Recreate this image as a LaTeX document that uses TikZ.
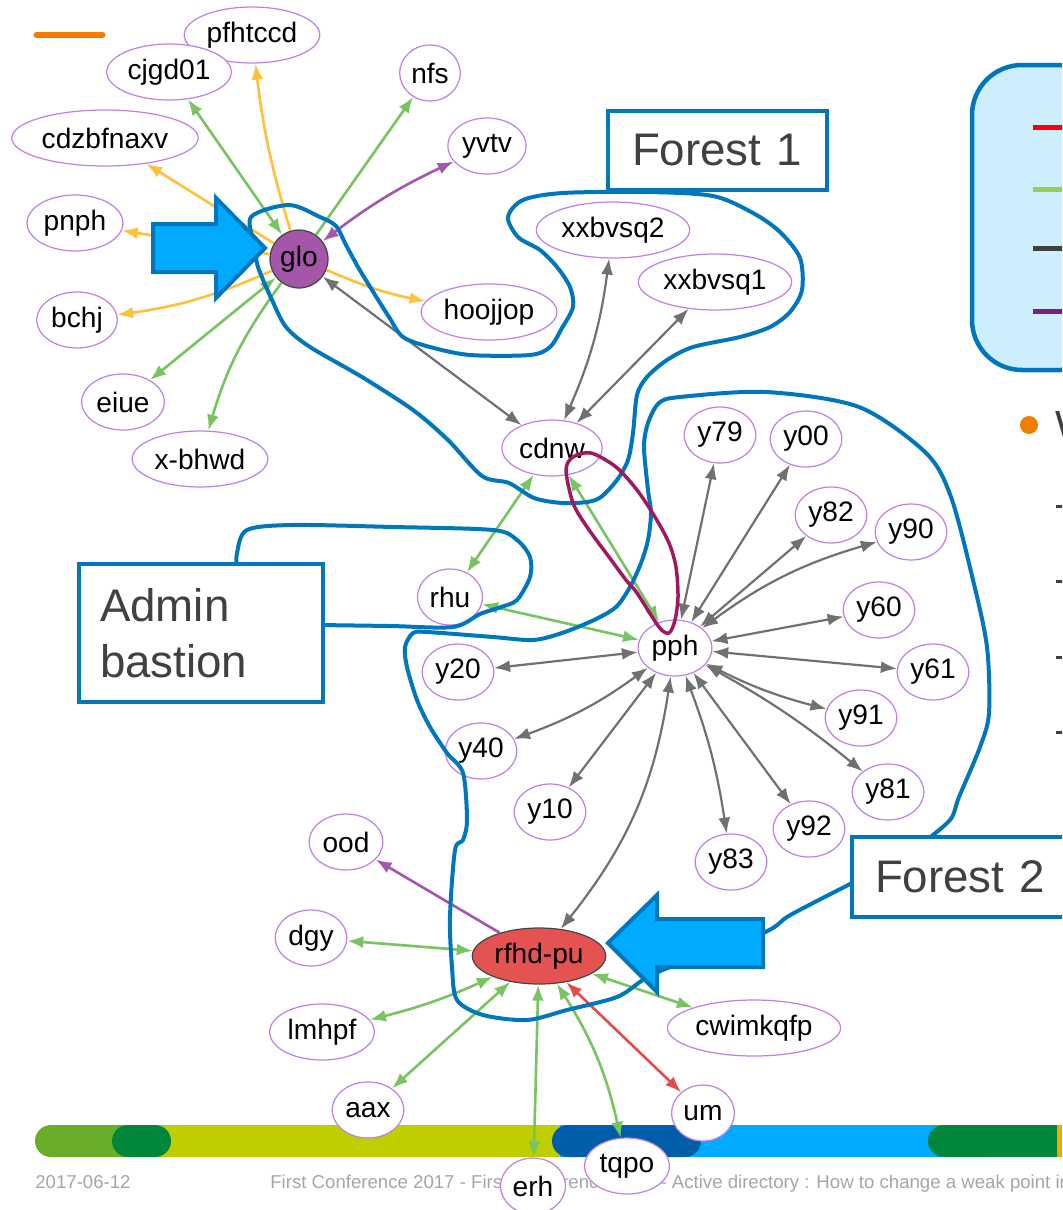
\documentclass[tikz,border=0pt]{standalone}
\usepackage{fontspec}
\setmainfont{Liberation Sans}
\usetikzlibrary{shapes.geometric,arrows.meta}

\definecolor{hostline}{RGB}{190,130,230}
\definecolor{nodedark}{RGB}{70,70,70}
\definecolor{glofill}{RGB}{164,86,168}
\definecolor{rfhdfill}{RGB}{228,82,82}
\definecolor{linkgreen}{RGB}{120,196,96}
\definecolor{linkyellow}{RGB}{255,192,60}
\definecolor{linkgray}{RGB}{112,112,112}
\definecolor{linkpurple}{RGB}{163,88,173}
\definecolor{linkred}{RGB}{228,76,76}
\definecolor{bluepen}{RGB}{0,118,189}
\definecolor{calloutfill}{RGB}{0,170,255}
\definecolor{loopred}{RGB}{160,25,95}
\definecolor{labeltext}{RGB}{64,64,64}
\definecolor{legendfill}{RGB}{204,238,253}
\definecolor{legred}{RGB}{255,0,0}
\definecolor{leggreen}{RGB}{146,208,80}
\definecolor{legpurple}{RGB}{128,30,128}
\definecolor{bulletorange}{RGB}{240,125,0}
\definecolor{footgray}{RGB}{165,165,165}
\definecolor{barlightgreen}{RGB}{106,174,39}
\definecolor{bardarkgreen}{RGB}{0,135,60}
\definecolor{baryellow}{RGB}{191,206,0}
\definecolor{bardarkblue}{RGB}{0,93,168}
\definecolor{barlightblue}{RGB}{0,170,255}
\definecolor{barorange}{RGB}{247,166,0}

\begin{document}
\begin{tikzpicture}[x=0.02cm, y=-0.02cm,
        host/.style={ellipse, draw=hostline, fill=white, line width=0.7pt, inner xsep=1.5pt, inner ysep=0pt,
            minimum height=1.12cm, minimum width=1.2cm, font=\fontsize{16}{19}\selectfont},
        link/.style={line width=1.5pt, >={Latex[length=0.32cm,width=0.24cm]}},
        greenedge/.style={link, linkgreen},
        yellowedge/.style={link, linkyellow},
        grayedge/.style={link, linkgray, line width=1.25pt},
        purpleedge/.style={link, linkpurple},
        rededge/.style={link, linkred},
        outline/.style={bluepen, line width=0.08cm, line join=round},
        callout/.style={fill=calloutfill, draw=bluepen, line width=0.08cm},
        labelbox/.style={draw=bluepen, fill=white, line width=0.08cm, align=left, inner ysep=0pt,
            text=labeltext, font=\fontsize{26}{32}\selectfont},
        footer/.style={text=footgray, font=\fontsize{10.6}{12}\selectfont, inner sep=0pt}]
        \useasboundingbox (0,0) rectangle (1062,1210);
        \clip (0,0) rectangle (1062,1210);

        \draw[bulletorange, line width=0.14cm, line cap=round] (37,35) -- (102,35);

        \fill[barlightgreen, rounded corners=0.32cm] (35,1125) rectangle (150,1157);
        \fill[baryellow] (140,1125) rectangle (560,1157);
        \fill[barlightblue] (560,1125) rectangle (1062,1157);
        \fill[bardarkgreen, rounded corners=0.32cm] (112,1125) rectangle (171,1157);
        \fill[bardarkblue, rounded corners=0.32cm] (552,1125) rectangle (701,1157);
        \fill[bardarkgreen, rounded corners=0.32cm] (928,1125) rectangle (1000,1157);
        \fill[bardarkgreen] (960,1125) rectangle (1057,1157);
        \fill[barorange] (1057,1125) rectangle (1062,1157);
        \node[footer, anchor=base west] (date) at (35,1188) {2017-06-12};
        \node[footer, anchor=base west] (title) at (270,1188) {First Conference 2017 - First Conference 2017 - Active directory : How to change a weak point in};

        \draw[bluepen, fill=legendfill, line width=0.09cm, rounded corners=1cm] (972,65) rectangle (1110,370);
        \foreach \c/\y in {legred/127, leggreen/189, labeltext/248, legpurple/311}
            \draw[\c, line width=0.1cm] (1033,\y) -- (1070,\y);
        \fill[bulletorange] (1029,425) circle[radius=0.18cm];
        \node[anchor=base west, inner sep=0pt, text=labeltext, font=\fontsize{24}{28}\selectfont] (wtext) at (1055,440) {W};
        \foreach \y in {506,581,657,732}
            \draw[labeltext, line width=0.06cm] (1056,\y) -- (1070,\y);

        \node[host] (pfhtccd) at (252,35) {pfhtccd};
        \node[host] (cjgd01) at (169,72) {cjgd01};
        \node[host] (nfs) at (430,73) {nfs};
        \node[host] (yvtv) at (487,146) {yvtv};
        \node[host] (cdzbfnaxv) at (105,138) {cdzbfnaxv};
        \node[host] (pnph) at (75,223) {pnph};
        \node[circle, draw=nodedark, fill=glofill, line width=0.7pt, minimum size=1.16cm, inner sep=0pt,
            font=\fontsize{16}{19}\selectfont] (glo) at (299,259) {glo};
        \node[host] (bchj) at (77,320) {bchj};
        \node[host] (hoojjop) at (489,312) {hoojjop};
        \node[host] (eiue) at (123,402) {eiue};
        \node[host] (xbhwd) at (200,459) {x-bhwd};
        \node[host] (xxbvsqtwo) at (613,230) {xxbvsq2};
        \node[host] (xxbvsqone) at (715,282) {xxbvsq1};
        \node[host] (cdnw) at (552,448) {cdnw};
        \node[host] (rhu) at (450,597) {rhu};
        \node[host] (pph) at (675,648) {pph};
        \node[host] (y79) at (720,435) {y79};
        \node[host] (y00) at (806,439) {y00};
        \node[host] (y82) at (831,515) {y82};
        \node[host] (y90) at (911,532) {y90};
        \node[host] (y60) at (879,610) {y60};
        \node[host] (y61) at (933,672) {y61};
        \node[host] (y91) at (861,718) {y91};
        \node[host] (y81) at (888,792) {y81};
        \node[host] (y92) at (809,829) {y92};
        \node[host] (y83) at (731,862) {y83};
        \node[host] (y10) at (550,812) {y10};
        \node[host] (y40) at (481,751) {y40};
        \node[host] (y20) at (458,672) {y20};
        \node[ellipse, draw=nodedark, fill=rfhdfill, line width=0.7pt, inner xsep=1.5pt, inner ysep=0pt,
            minimum height=1.12cm, font=\fontsize{16}{19}\selectfont] (rfhd) at (539,956) {rfhd-pu};
        \node[host] (ood) at (346,842) {ood};
        \node[host] (dgy) at (311,938) {dgy};
        \node[host] (lmhpf) at (322,1032) {lmhpf};
        \node[host] (aax) at (368,1110) {aax};
        \node[host] (erh) at (533,1186) {erh};
        \node[host] (tqpo) at (627,1166) {tqpo};
        \node[host] (um) at (703,1113) {um};
        \node[host] (cwimkqfp) at (754,1028) {cwimkqfp};

        \draw[yellowedge,->] (glo) to[bend left=5] (pfhtccd);
        \draw[greenedge,<->] (glo) -- (cjgd01);
        \draw[yellowedge,->] (glo) -- (cdzbfnaxv);
        \draw[yellowedge,->] (glo) -- (pnph);
        \draw[yellowedge,->] (glo) to[bend left=8] (bchj);
        \draw[greenedge,<->] (glo) -- (eiue);
        \draw[greenedge,->] (glo) to[bend left=-10] (xbhwd);
        \draw[greenedge,->] (glo) -- (nfs);
        \draw[purpleedge,<->] (glo) to[bend left=6] (yvtv);
        \draw[yellowedge,->] (glo) to[bend left=-6] (hoojjop);
        \draw[grayedge,<->] (glo) -- (cdnw);

        \draw[grayedge,<->] (cdnw) to[bend left=-8] (xxbvsqtwo);
        \draw[grayedge,<->] (cdnw) -- (xxbvsqone);
        \draw[greenedge,<->] (cdnw) -- (rhu);
        \draw[greenedge,<->] (cdnw) -- (pph);
        \draw[greenedge,<->] (rhu) -- (pph);

        \foreach \n in {y79,y00,y82,y60,y61,y92,y10,y20}
            \draw[grayedge,<->] (pph) -- (\n);
        \foreach \n/\b in {y90/10,y91/-6,y81/5,y83/6,y40/8}
            \draw[grayedge,<->] (pph) to[bend left=\b] (\n);
        \draw[grayedge,<->] (pph) to[bend left=15] (rfhd);

        \draw[purpleedge,->] (rfhd) -- (ood);
        \foreach \n in {dgy,aax,erh,cwimkqfp}
            \draw[greenedge,<->] (rfhd) -- (\n);
        \draw[greenedge,<->] (rfhd) to[bend left=5] (lmhpf);
        \draw[greenedge,<->] (rfhd) to[bend left=10] (tqpo);
        \draw[rededge,<->] (rfhd) -- (um);

        \draw[outline] plot[smooth cycle, tension=0.5] coordinates {
            (251,217) (289,205) (320,217) (336,226) (346,245) (358,267) (372,290) (389,317) (403,337)
            (430,347) (470,355) (530,355) (550,347) (562,328) (573,307) (570,287) (557,267) (540,250)
            (518,237) (508,217) (523,200) (563,193) (647,192) (713,196) (753,213) (780,232) (800,258)
            (802,290) (790,312) (770,327) (740,337) (693,347) (667,360) (647,377) (637,395) (633,433)
            (628,460) (617,480) (601,497) (587,502) (562,503) (534,498) (509,483) (482,476) (448,440)
            (413,410) (362,377) (310,347) (286,327) (272,300) (258,267) (255,247)};
        \draw[outline] plot[smooth, tension=0.5] coordinates {
            (920,845) (950,820) (959,797) (980,747) (989,713) (987,647) (973,580) (951,497) (926,453)
            (859,407) (766,392) (680,397) (659,403) (648,423) (644,447) (648,490) (651,513) (648,540)
            (641,563) (630,587) (616,607) (594,620) (562,633) (533,640) (493,637) (427,632) (413,633)
            (405,647) (407,667) (417,700) (430,727) (447,753) (463,773) (467,820) (463,840) (455,850)
            (450,917) (452,967) (457,1000) (483,1015) (527,1020) (567,1010) (617,997) (643,980)
            (670,967) (763,933) (787,917) (813,903) (858,880)};
        \draw[outline] plot[smooth, tension=0.5] coordinates {
            (237,570) (237,553) (247,530) (293,525) (393,527) (493,530) (517,540) (530,557) (530,577)
            (517,600) (501,607) (480,614) (453,627) (390,626) (318,625)};
        \draw[loopred, line width=0.07cm] plot[smooth cycle, tension=0.5] coordinates {
            (669,633) (659,627) (637,593) (626,580) (609,557) (587,527) (573,503) (566,470) (573,457)
            (591,453) (616,467) (637,490) (655,517) (669,543) (676,567) (678,597) (675,620)};

        \draw[callout] (153,224) -- (216,224) -- (216,198) -- (265,248) -- (216,298) -- (216,272) -- (153,272) -- cycle;
        \draw[callout] (763,919) -- (657,919) -- (657,895) -- (608,943) -- (657,992) -- (657,967) -- (763,967) -- cycle;

        \node[labelbox, text width=3.42cm, inner xsep=0.48cm, minimum height=1.58cm] (forest1) at (717.5,150.5) {Forest 1};
        \node[labelbox, text width=4.04cm, inner xsep=0.42cm, minimum height=2.76cm] (bastion) at (201,633) {Admin\\bastion};
        \node[labelbox, anchor=west, text width=3.6cm, inner xsep=0.46cm, minimum height=1.6cm] (forest2) at (850,877) {Forest 2};
    \end{tikzpicture}
\end{document}
